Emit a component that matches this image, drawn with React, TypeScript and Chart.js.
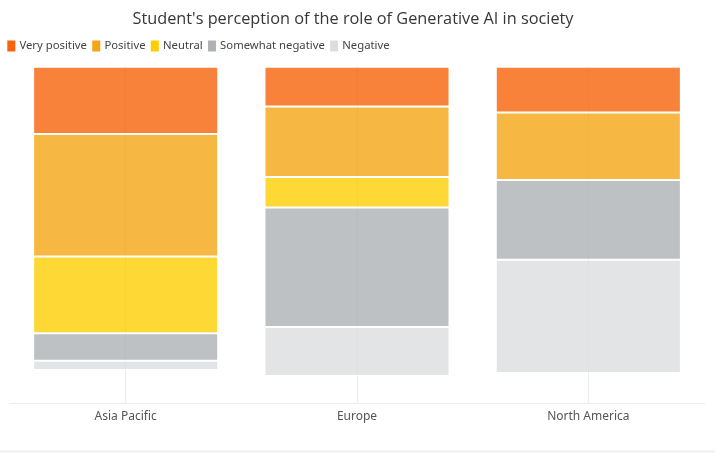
import React, { useEffect, useRef } from "react";
import { Chart, registerables } from "chart.js";

Chart.register(...registerables);

const regions = ["Asia Pacific", "Europe", "North America"];
const seriesNames = ["Very positive", "Positive", "Neutral", "Somewhat negative", "Negative"];
const veryPositive = [22, 13, 15];
const positive = [40, 23, 22];
const neutral = [25, 10, 0];
const somewhatNegative = [9, 39, 26];
const negative = [3, 16, 37];
const seriesColors = ["#f7630a", "#f4a614", "#fece01", "#aeb2b5", "#dcdddf"];

function withAlpha(hex: string, a: number) {
  const n = parseInt(hex.slice(1), 16);
  return `rgba(${(n >> 16) & 255},${(n >> 8) & 255},${n & 255},${a})`;
}

// extra room between the legend row and the bars
const legendGap = {
  id: "legendGap",
  beforeInit(chart: any) {
    const fit = chart.legend.fit;
    chart.legend.fit = function () {
      fit.call(this);
      this.height += 5;
    };
  },
};

export default function App() {
  const ref = useRef<HTMLCanvasElement | null>(null);

  useEffect(() => {
    document.body.style.margin = "0";
    document.body.style.background = "#f3f5f5";
    const values = [veryPositive, positive, neutral, somewhatNegative, negative];
    const chart = new Chart(ref.current!, {
      type: "bar",
      data: {
        labels: regions,
        datasets: seriesNames.map((name, i) => ({
          label: name,
          data: values[i],
          backgroundColor: withAlpha(seriesColors[i], 0.8),
          borderColor: "rgba(255,255,255,0.85)",
          borderWidth: 1,
          borderSkipped: false,
          categoryPercentage: 1,
          barPercentage: 0.8,
        })),
      },
      plugins: [legendGap],
      options: {
        animation: false,
        responsive: false,
        maintainAspectRatio: false,
        layout: { padding: { left: 2, right: 11, top: 10, bottom: 20 } },
        plugins: {
          title: {
            display: true,
            text: "Student's perception of the role of Generative AI in society",
            color: "#363636",
            font: { family: "Open Sans", size: 16.3, weight: "normal" },
            padding: { top: 0, bottom: 4 },
          },
          legend: {
            position: "top",
            align: "start",
            labels: {
              // small box drawn with a thick stroke so the label sits close to it
              boxWidth: 5,
              boxHeight: 8,
              padding: 6.8,
              color: "#444",
              font: { family: "Noto Sans", size: 11.3 },
              useBorderRadius: true,
              borderRadius: 1,
              generateLabels: () =>
                seriesNames.map((name, i) => ({
                  text: name,
                  fillStyle: seriesColors[i],
                  strokeStyle: seriesColors[i],
                  lineWidth: 3,
                  datasetIndex: i,
                  hidden: false,
                  fontColor: "#444",
                })),
            },
          },
          tooltip: { enabled: false },
        },
        scales: {
          x: {
            stacked: true,
            grid: { offset: false, color: "#ececec", drawTicks: false },
            border: { color: "#ececec" },
            ticks: { color: "#555", font: { family: "Noto Sans", size: 12 }, padding: 6 },
          },
          y: {
            stacked: true,
            display: true,
            reverse: true,
            min: 0,
            max: 110,
            grid: { display: false, drawTicks: false },
            border: { display: false },
            ticks: { display: false },
            afterFit: (axis: any) => {
              axis.width = 8;
            },
          },
        },
      },
    });
    return () => chart.destroy();
  }, []);

  return (
    <div style={{ position: "absolute", left: 0, top: 0, width: 715, height: 450, background: "#ffffff" }}>
      <canvas ref={ref} width={715} height={450} style={{ display: "block" }} />
    </div>
  );
}
